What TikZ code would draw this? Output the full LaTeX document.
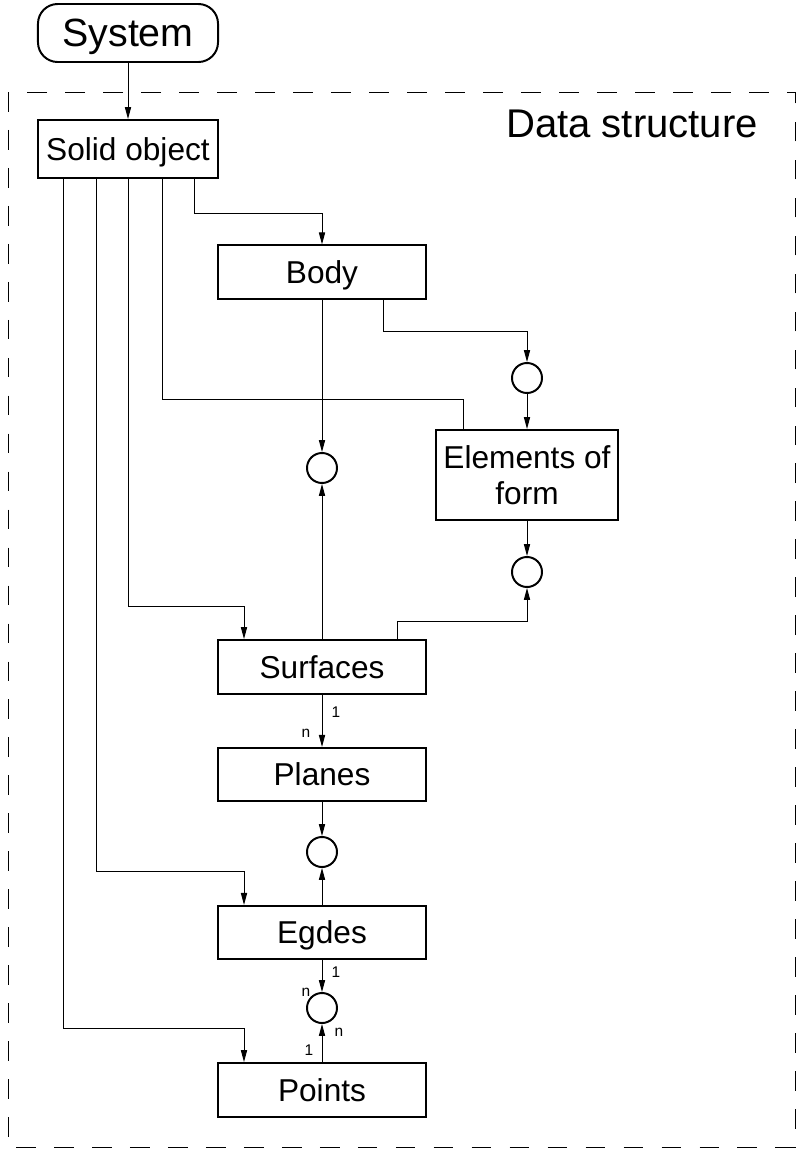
\documentclass[tikz,border=0pt]{standalone}
\usepackage{fontspec}
\setmainfont{Liberation Sans}
\usetikzlibrary{arrows.meta, calc}
\tikzset{
  structfig/.style={
    x=0.025cm, y=-0.025cm, line width=0.7pt,
    >={Triangle[length=8.5pt, width=4.4pt]},
  },
  objbox/.style={
    draw, line width=1.4pt, align=center, inner sep=2pt, text depth=0pt,
    minimum width=5.2cm, minimum height=1.33cm,
    font=\fontsize{22.5}{26}\selectfont,
  },
  solidbox/.style={objbox, minimum width=4.5cm, minimum height=1.45cm},
  sysbox/.style={solidbox, rounded corners=14pt, font=\fontsize{28}{32}\selectfont},
  formbox/.style={objbox, minimum width=4.525cm, minimum height=2.25cm},
  relcircle/.style={draw, circle, line width=1.4pt, minimum size=0.75cm, inner sep=0pt},
  flow/.style={->},
  % Kardinalitaeten an den Verbindungen
  card/.style={font=\fontsize{11}{12}\selectfont, inner sep=0pt},
  frame/.style={dash pattern=on 14pt off 13pt, line width=0.7pt},
}
\begin{document}
\begin{tikzpicture}[structfig]
  \useasboundingbox (0,0) rectangle (802,1152);
  \draw[frame] (8,92) rectangle (795,1147);
  \node[font=\fontsize{28.5}{32}\selectfont] (DataStructure) at (632,124) {Data structure};
  \node[sysbox] (System) at (128,33) {System};
  \node[solidbox] (SolidObject) at (128,149) {Solid object};
  \node[objbox] (Body) at (322,272) {Body};
  \node[formbox] (ElementsForm) at (527,475) {Elements of\\form};
  \node[objbox, minimum height=1.35cm] (Surfaces) at (322,667) {Surfaces};
  \node[objbox] (Planes) at (322,774.5) {Planes};
  \node[objbox] (Egdes) at (322,932.5) {Egdes};
  \node[objbox, minimum height=1.35cm] (Points) at (322,1090) {Points};
  \node[relcircle] (RelBodyForm) at (527,378) {};
  \node[relcircle] (RelBodySurf) at (322,468) {};
  \node[relcircle] (RelFormSurf) at (527,572) {};
  \node[relcircle] (RelPlaneEdge) at (322,852) {};
  \node[relcircle] (RelEdgePoint) at (322,1008) {};
  \draw[flow] (System) -- (SolidObject);
  \draw[flow] ($(SolidObject.south)+(66,0)$) -- ++(0,34) -| (Body);
  \draw ($(SolidObject.south)+(34,0)$) -- ++(0,220) -| ($(ElementsForm.north)+(-64,0)$);
  \draw[flow] (SolidObject.south) -- ++(0,427) -| ($(Surfaces.north)+(-78,0)$);
  \draw[flow] ($(SolidObject.south)+(-32,0)$) -- ++(0,692) -| ($(Egdes.north)+(-78,0)$);
  \draw[flow] ($(SolidObject.south)+(-65,0)$) -- ++(0,849) -| ($(Points.north)+(-78,0)$);
  \draw[flow] ($(Body.south)+(61,0)$) -- ++(0,32) -| (RelBodyForm);
  \draw[flow] (RelBodyForm) -- (ElementsForm);
  \draw[flow] (Body) -- (RelBodySurf);
  \draw[flow] (Surfaces) -- (RelBodySurf);
  \draw[flow] (ElementsForm) -- (RelFormSurf);
  \draw[flow] ($(Surfaces.north)+(75,0)$) -- ++(0,-18) -| (RelFormSurf);
  \draw[flow] (Surfaces) -- (Planes);
  \draw[flow] (Planes) -- (RelPlaneEdge);
  \draw[flow] (Egdes) -- (RelPlaneEdge);
  \draw[flow] (Egdes) -- (RelEdgePoint);
  \draw[flow] (Points) -- (RelEdgePoint);
  \node[card] (CardSurfOne) at (336,712) {1};
  \node[card] (CardPlaneN) at (306,733) {n};
  \node[card] (CardEdgeOne) at (336,972) {1};
  \node[card] (CardEdgeN) at (306,992) {n};
  \node[card] (CardPointN) at (339,1032) {n};
  \node[card] (CardPointOne) at (309,1050) {1};
\end{tikzpicture}
\end{document}
